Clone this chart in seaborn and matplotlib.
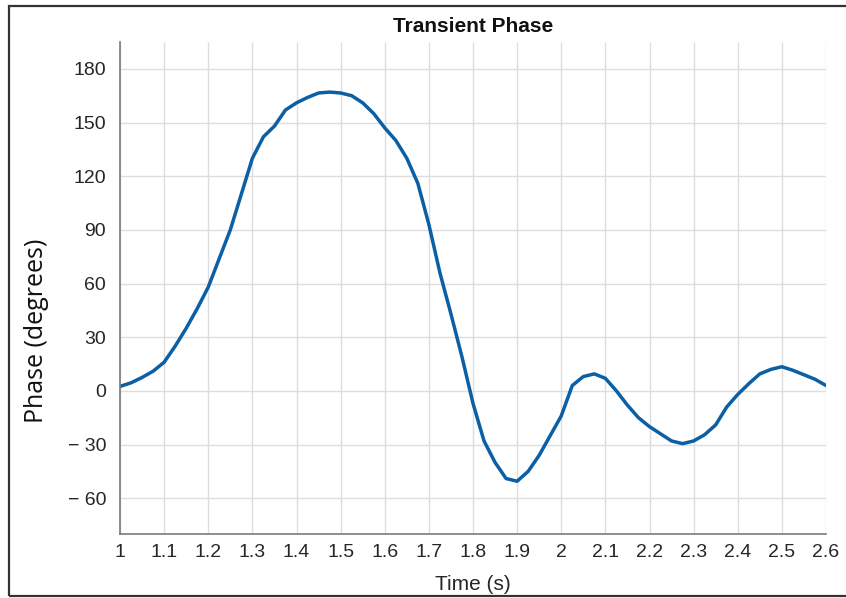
import numpy as np
import pandas as pd
import seaborn as sns
import matplotlib
matplotlib.use("Agg")
import matplotlib.pyplot as plt
from matplotlib.patches import Rectangle

time_s = [1.000, 1.025, 1.050, 1.075, 1.100, 1.125, 1.150, 1.175, 1.200, 1.225,
          1.250, 1.275, 1.300, 1.325, 1.350, 1.375, 1.400, 1.425, 1.450, 1.475,
          1.500, 1.525, 1.550, 1.575, 1.600, 1.625, 1.650, 1.675, 1.700, 1.725,
          1.750, 1.775, 1.800, 1.825, 1.850, 1.875, 1.900, 1.925, 1.950, 1.975,
          2.000, 2.025, 2.050, 2.075, 2.100, 2.125, 2.150, 2.175, 2.200, 2.225,
          2.250, 2.275, 2.300, 2.325, 2.350, 2.375, 2.400, 2.425, 2.450, 2.475,
          2.500, 2.525, 2.550, 2.575, 2.600]
phase_deg = [2.5, 4.5, 7.5, 11, 16, 25, 35, 46, 58, 74,
             90, 110, 130, 142, 148, 157, 161, 164, 166.5, 167,
             166.5, 165, 161, 155, 147, 140, 130, 116, 93, 66,
             43, 19, -7, -28, -40, -49, -50.5, -45, -36, -25,
             -14, 3, 8, 9.5, 7, 0, -8, -15, -20, -24,
             -28, -29.5, -28, -24.5, -19, -9, -2, 4, 9.5, 12,
             13.5, 11.5, 9, 6.5, 3]

x_ticks = [1.0, 1.1, 1.2, 1.3, 1.4, 1.5, 1.6, 1.7, 1.8, 1.9, 2.0, 2.1, 2.2, 2.3, 2.4, 2.5, 2.6]
x_tick_labels = ["1", "1.1", "1.2", "1.3", "1.4", "1.5", "1.6", "1.7", "1.8", "1.9",
                 "2", "2.1", "2.2", "2.3", "2.4", "2.5", "2.6"]
y_ticks = [-60, -30, 0, 30, 60, 90, 120, 150, 180]
y_tick_labels = ["\u2212 60", "\u2212 30", "0", "30", "60", "90", "120", "150", "180"]

df = pd.DataFrame({"Time": time_s, "Phase": phase_deg})

sns.set_theme(style="white")
plt.rcParams["font.family"] = ["Liberation Sans", "DejaVu Sans"]

fig = plt.figure(figsize=(8.46, 5.98), dpi=100)
ax = fig.add_axes([120/846, 1 - 534/598, (826-120)/846, (534-42)/598])

sns.lineplot(data=df, x="Time", y="Phase", ax=ax, color="#0A5FA5", linewidth=2.5)

ax.set_xlim(1.0, 2.6)
ax.set_ylim(-80, 195)
ax.set_xticks(x_ticks)
ax.set_xticklabels(x_tick_labels)
ax.set_yticks(y_ticks)
ax.set_yticklabels(y_tick_labels)
ax.grid(True, color="#DEDEDE", linewidth=1.0)
ax.set_axisbelow(True)
for s in ["top", "right"]:
    ax.spines[s].set_visible(False)
for s in ["left", "bottom"]:
    ax.spines[s].set_color("#7A7A7A")
    ax.spines[s].set_linewidth(1.2)
ax.tick_params(axis="both", direction="in", length=4, width=1, color="#7A7A7A",
               labelsize=14, labelcolor="#262626")
ax.tick_params(axis="x", pad=7)
ax.tick_params(axis="y", pad=10)

ax.set_xlabel("Time (s)", fontsize=15, color="#262626", labelpad=10)
ax.set_ylabel("Phase (degrees)", fontsize=18, color="#111111",
              family=["Open Sans", "DejaVu Sans"])
ax.yaxis.set_label_coords(-0.100, 0.413)
ax.set_title("Transient Phase", fontsize=15, fontweight="bold", color="#111111", pad=7)

fig.patches.append(Rectangle((9/846, 2/598), 1.2, 590/598, transform=fig.transFigure,
                             fill=False, edgecolor="#333333", linewidth=1.6))

fig.savefig("out.png", dpi=100)
